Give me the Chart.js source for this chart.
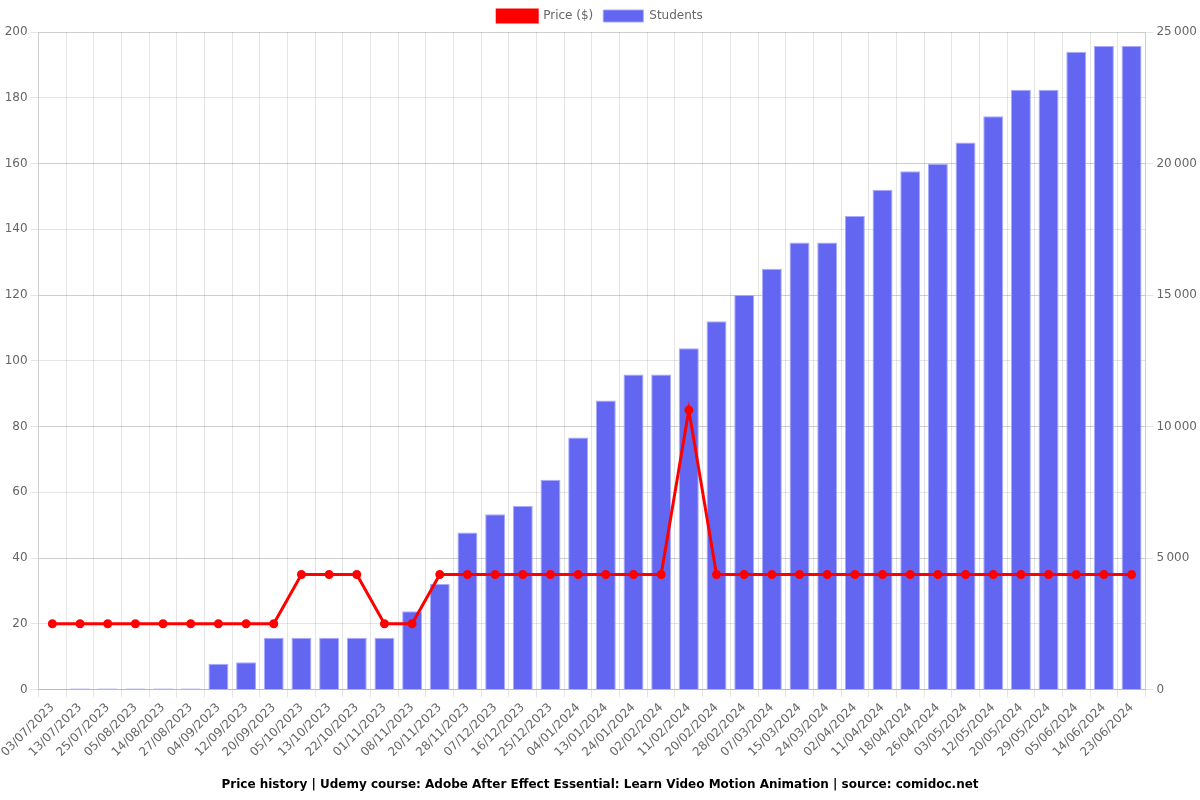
<!DOCTYPE html>
<html>
<head>
<meta charset="utf-8">
<script src="https://cdn.jsdelivr.net/npm/chart.js@4/dist/chart.umd.min.js"></script>
<style>
html,body{margin:0;padding:0;background:#fff;}
#wrap{width:1200px;height:800px;}
</style>
</head>
<body>
<div id="wrap"><canvas id="c"></canvas></div>
<script>
const categories = ["03/07/2023","13/07/2023","25/07/2023","05/08/2023","14/08/2023","27/08/2023","04/09/2023","12/09/2023","20/09/2023","05/10/2023","13/10/2023","22/10/2023","01/11/2023","08/11/2023","20/11/2023","28/11/2023","07/12/2023","16/12/2023","25/12/2023","04/01/2024","13/01/2024","24/01/2024","02/02/2024","11/02/2024","20/02/2024","28/02/2024","07/03/2024","15/03/2024","24/03/2024","02/04/2024","11/04/2024","18/04/2024","26/04/2024","03/05/2024","12/05/2024","20/05/2024","29/05/2024","05/06/2024","14/06/2024","23/06/2024"];
const priceValues = [20,20,20,20,20,20,20,20,20,35,35,35,20,20,35,35,35,35,35,35,35,35,35,84.99,35,35,35,35,35,35,35,35,35,35,35,35,35,35,35,35];
const studentValues = [0,40,40,40,40,40,980,1040,1970,1970,1970,1970,1970,2980,4020,5970,6660,6980,7980,9580,10990,11980,11980,12980,14000,15000,16000,17000,17000,18000,19000,19710,19990,20800,21800,22800,22800,24250,24470,24470];
const titleText = "Price history | Udemy course: Adobe After Effect Essential: Learn Video Motion Animation | source: comidoc.net";

Chart.defaults.font.family = "'DejaVu Sans', sans-serif";
Chart.defaults.color = "#666";

new Chart(document.getElementById('c'), {
  data: {
    labels: categories,
    datasets: [
      {
        type: 'line',
        label: 'Price ($)',
        data: priceValues,
        yAxisID: 'y',
        borderColor: 'rgb(255,0,0)',
        backgroundColor: 'rgb(255,0,0)',
        borderWidth: 3,
        pointRadius: 3,
        pointBackgroundColor: 'rgb(255,0,0)',
        tension: 0,
        order: 1
      },
      {
        type: 'bar',
        label: 'Students',
        data: studentValues,
        yAxisID: 'y1',
        backgroundColor: 'rgb(99,102,241)',
        borderColor: 'rgba(160,162,255,0.9)',
        borderWidth: 1,
        order: 2
      }
    ]
  },
  options: {
    responsive: true,
    maintainAspectRatio: false,
    animation: false,
    layout: { padding: { left: 0, right: 0, top: 0, bottom: 4 } },
    plugins: {
      legend: {
        position: 'top',
        labels: { boxWidth: 40, boxHeight: 12, font: { size: 12 } }
      },
      title: {
        display: true,
        text: titleText,
        position: 'bottom',
        color: '#000',
        font: { size: 12, weight: 'bold' },
        padding: { top: 15, bottom: 4 }
      }
    },
    scales: {
      x: {
        ticks: { maxRotation: 45, minRotation: 45, autoSkip: false, font: { size: 12 } },
        grid: { color: 'rgba(0,0,0,0.1)' }
      },
      y: {
        position: 'left',
        min: 0, max: 200,
        ticks: { stepSize: 20, font: { size: 12 } },
        grid: { color: 'rgba(0,0,0,0.1)' }
      },
      y1: {
        position: 'right',
        min: 0, max: 25000,
        ticks: {
          stepSize: 5000,
          font: { size: 12 },
          callback: v => String(v).replace(/\B(?=(\d{3})+(?!\d))/g, '\u202F')
        },
        grid: { color: 'rgba(0,0,0,0.1)' }
      }
    }
  }
});
</script>
</body>
</html>
